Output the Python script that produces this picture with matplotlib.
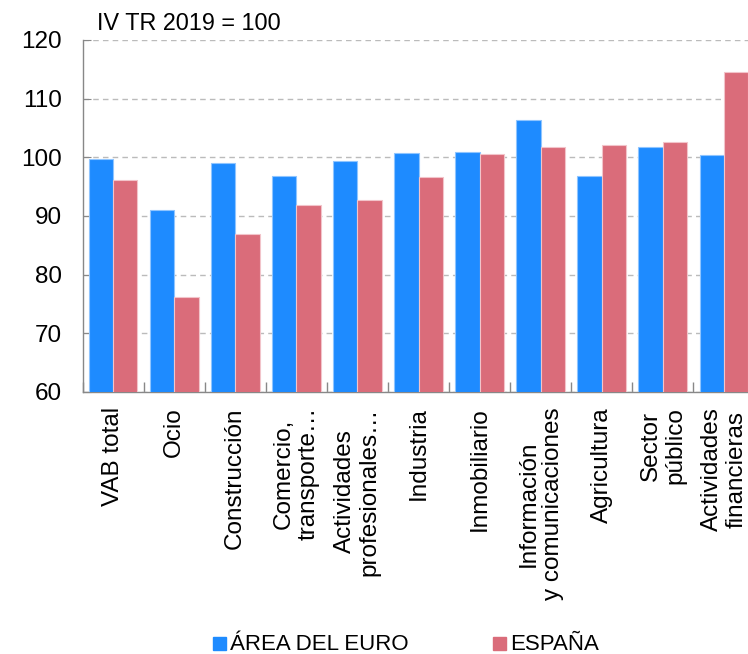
import matplotlib
matplotlib.use("Agg")
import matplotlib.pyplot as plt
import numpy as np
from matplotlib.patches import Rectangle

plt.rcParams['font.family'] = ['Liberation Sans', 'DejaVu Sans']

categories = ["VAB total", "Ocio", "Construcción", "Comercio,\ntransporte…",
              "Actividades\nprofesionales…", "Industria", "Inmobiliario",
              "Información\ny comunicaciones", "Agricultura", "Sector\npúblico",
              "Actividades\nfinancieras"]
euro = [99.8, 91.1, 99.1, 96.8, 99.4, 100.7, 100.9, 106.4, 96.8, 101.7, 100.4]
espana = [96.1, 76.2, 87.0, 91.9, 92.8, 96.7, 100.5, 101.8, 102.1, 102.6, 114.5]
yticks = [60, 70, 80, 90, 100, 110, 120]
series_names = ["ÁREA DEL EURO", "ESPAÑA"]

blue = "#1E8BFF"
red = "#DA6C7A"

W, H = 748, 654
fig = plt.figure(figsize=(W / 100, H / 100), dpi=100)
ax = fig.add_axes([82.5 / W, 1 - 392 / H, 672 / W, 352 / H])

x = np.arange(len(categories))
bw = 0.4
ax.bar(x - bw / 2, euro, bw, color=blue, edgecolor="#8FC5FF", linewidth=0.8, zorder=3)
ax.bar(x + bw / 2, espana, bw, color=red, edgecolor="#F2C4CA", linewidth=0.8, zorder=3)

ax.set_xlim(-0.5, len(categories) - 0.5)
ax.set_ylim(60, 120)
ax.set_yticks(yticks)
ax.set_yticklabels([str(v) for v in yticks], fontsize=17.5)
ax.yaxis.grid(True, color="#BBBBBB", linestyle=(0, (4, 3)), linewidth=1, zorder=0)
ax.set_axisbelow(True)

ax.set_xticks(x)
ax.set_xticklabels(categories, rotation=90, fontsize=17.5, ha="center", va="top",
                   multialignment="center", linespacing=1.15)
ax.tick_params(axis="x", length=0, pad=11)
ax.set_xticks(np.arange(len(categories) + 1) - 0.5, minor=True)
ax.tick_params(axis="x", which="minor", direction="in", length=7, color="#888888", width=1)
ax.tick_params(axis="y", direction="in", length=6, color="#888888", pad=15)

for s in ["top", "right"]:
    ax.spines[s].set_visible(False)
for s in ["left", "bottom"]:
    ax.spines[s].set_color("#888888")
    ax.spines[s].set_linewidth(1)

fig.text(97 / W, 1 - 23 / H, "IV TR 2019 = 100", fontsize=16.8, va="center", ha="left")

# legend
leg = [(213, blue, series_names[0]), (493, red, series_names[1])]
for x0, c, name in leg:
    fig.add_artist(Rectangle((x0 / W, 1 - 650 / H), 13 / W, 13 / H,
                             transform=fig.transFigure, color=c))
    fig.text((x0 + 17) / W, 1 - 650 / H, name, fontsize=16, va="baseline", ha="left")

fig.savefig("out.png", dpi=100)
